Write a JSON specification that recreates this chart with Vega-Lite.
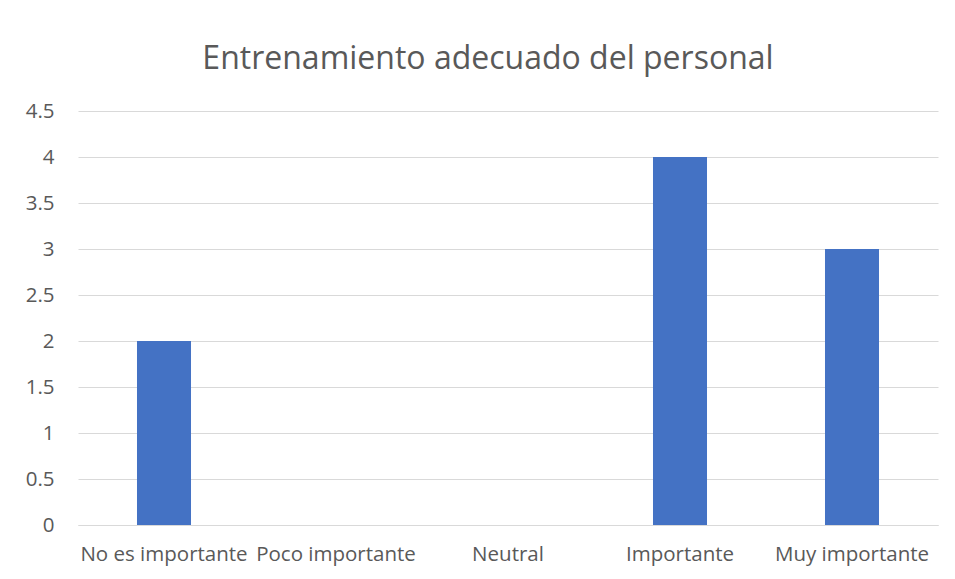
{
  "$schema": "https://vega.github.io/schema/vega-lite/v6.json",
  "autosize": {"type": "none"},
  "width": 860,
  "height": 414,
  "padding": {"left": 78, "top": 111, "right": 17, "bottom": 54},
  "background": "white",
  "title": {
    "text": "Entrenamiento adecuado del personal",
    "font": "Open Sans",
    "fontSize": 32,
    "fontWeight": "normal",
    "color": "#595959",
    "anchor": "middle",
    "offset": 25,
    "dx": -20
  },
  "data": {
    "values": [
      {"categoria": "No es importante", "valor": 2},
      {"categoria": "Poco importante", "valor": 0},
      {"categoria": "Neutral", "valor": 0},
      {"categoria": "Importante", "valor": 4},
      {"categoria": "Muy importante", "valor": 3}
    ]
  },
  "mark": {"type": "bar", "color": "#4472C4"},
  "encoding": {
    "x": {
      "field": "categoria",
      "type": "nominal",
      "sort": null,
      "scale": {"paddingInner": 0.686, "paddingOuter": 0.343},
      "axis": {
        "title": null,
        "labelAngle": 0,
        "labelFont": "Open Sans",
        "labelFontSize": 20.5,
        "labelColor": "#595959",
        "labelPadding": 19,
        "labelOverlap": false,
        "domainColor": "#D9D9D9",
        "domainWidth": 1,
        "ticks": false,
        "grid": false
      }
    },
    "y": {
      "field": "valor",
      "type": "quantitative",
      "scale": {"domain": [0, 4.5], "nice": false},
      "axis": {
        "title": null,
        "values": [0, 0.5, 1, 1.5, 2, 2.5, 3, 3.5, 4, 4.5],
        "format": "~g",
        "labelFont": "Open Sans",
        "labelFontSize": 20.5,
        "labelColor": "#595959",
        "labelPadding": 24,
        "domain": false,
        "ticks": false,
        "gridColor": "#D9D9D9",
        "gridWidth": 1
      }
    }
  },
  "config": {"view": {"stroke": null}}
}
